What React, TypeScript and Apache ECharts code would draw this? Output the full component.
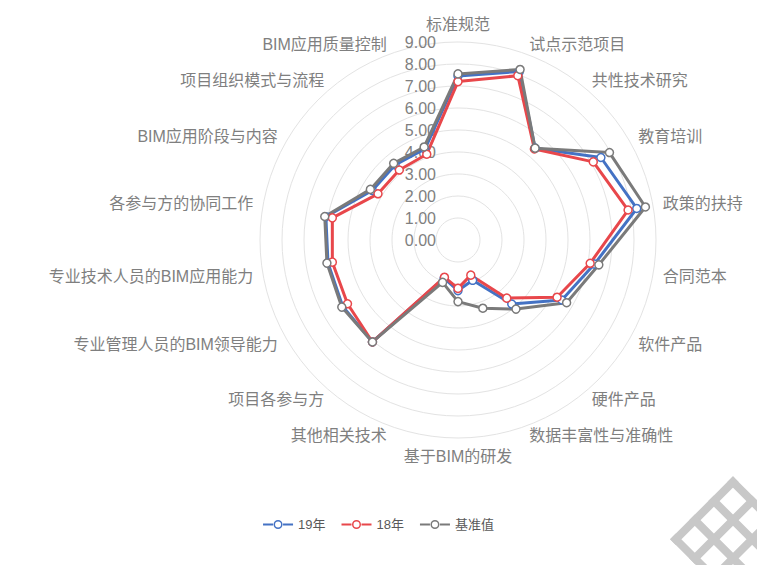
import React, { useEffect, useRef } from "react";
import * as echarts from "echarts";

// Indicators, clockwise from the top
const indicators = [
  "标准规范",
  "试点示范项目",
  "共性技术研究",
  "教育培训",
  "政策的扶持",
  "合同范本",
  "软件产品",
  "硬件产品",
  "数据丰富性与准确性",
  "基于BIM的研发",
  "其他相关技术",
  "项目各参与方",
  "专业管理人员的BIM领导能力",
  "专业技术人员的BIM应用能力",
  "各参与方的协同工作",
  "BIM应用阶段与内容",
  "项目组织模式与流程",
  "BIM应用质量控制",
];

const values19 = [7.45, 8.15, 5.45, 7.5, 8.25, 6.3, 5.45, 3.8, 1.95, 2.3, 1.85, 6.05, 6.05, 6.0, 6.1, 4.5, 4.45, 4.4];
const values18 = [7.2, 7.95, 5.4, 7.1, 7.85, 6.1, 5.2, 3.45, 1.7, 2.2, 1.8, 6.05, 5.8, 5.8, 5.8, 4.2, 4.15, 4.15];
const valuesBase = [7.55, 8.25, 5.45, 7.95, 8.65, 6.5, 5.7, 4.1, 3.3, 2.8, 2.05, 6.05, 6.1, 6.05, 6.15, 4.6, 4.55, 4.5];

const seriesNames = ["19年", "18年", "基准值"];
const seriesColors = ["#4472C4", "#E8474B", "#7A7A7A"];
const axisMin = 0;
const axisMax = 9;
const axisSplits = 9;

// ECharts radar runs counter-clockwise; reorder so the picture runs clockwise
function toCCW<T>(arr: T[]): T[] {
  return [arr[0], ...arr.slice(1).reverse()];
}

const legendIcon =
  "path://M0,7h10v2H0z M20,7h10v2H20z M10.5,8a4.5,4.5 0 1,0 9,0a4.5,4.5 0 1,0 -9,0z M12,8a3,3 0 1,1 6,0a3,3 0 1,1 -6,0z";

function watermark() {
  const T = [733, 482];
  const c = 27;
  const s = c / Math.SQRT2;
  const u = [-s, s];
  const v = [s, s];
  const els: any[] = [];
  for (let i = 0; i <= 3; i++) {
    const a = [T[0] + i * u[0], T[1] + i * u[1]];
    els.push({
      type: "line",
      shape: { x1: a[0], y1: a[1], x2: a[0] + 3 * v[0], y2: a[1] + 3 * v[1] },
      style: { stroke: "#c8c8c8", lineWidth: 8, lineCap: "square" },
    });
    const b = [T[0] + i * v[0], T[1] + i * v[1]];
    els.push({
      type: "line",
      shape: { x1: b[0], y1: b[1], x2: b[0] + 3 * u[0], y2: b[1] + 3 * u[1] },
      style: { stroke: "#c8c8c8", lineWidth: 8, lineCap: "square" },
    });
  }
  return { type: "group", z: 100, children: els };
}

export default function App() {
  const ref = useRef<HTMLDivElement>(null);
  useEffect(() => {
    if (!ref.current) return;
    const chart = echarts.init(ref.current, null, { renderer: "svg" });
    const fontFamily = "'Liberation Sans', 'Noto Sans CJK SC', sans-serif";
    const allValues = [values19, values18, valuesBase];
    chart.setOption({
      animation: false,
      backgroundColor: "#ffffff",
      textStyle: { fontFamily },
      radar: {
        center: [458, 240],
        radius: 198,
        startAngle: 90,
        shape: "circle",
        splitNumber: axisSplits,
        nameGap: 10,
        indicator: toCCW(indicators).map((name, i) => ({
          name,
          min: axisMin,
          max: axisMax,
          ...(i === 0 ? { axisLabel: { show: true } } : {}),
        })),
        axisName: { color: "#7f7f7f", fontSize: 16, fontFamily },
        axisLine: { show: false },
        axisTick: { show: false },
        axisLabel: {
          show: false,
          color: "#7f7f7f",
          fontSize: 16,
          margin: 22,
          fontFamily,
          formatter: (v: number) => Number(v).toFixed(2),
        },
        splitLine: { lineStyle: { color: "#e3e3e3", width: 1 } },
        splitArea: { show: false },
      },
      legend: {
        data: seriesNames.map((n, i) => ({
          name: n,
          icon: legendIcon,
          itemStyle: { color: seriesColors[i], borderWidth: 0 },
        })),
        left: "center",
        top: 513,
        itemWidth: 30,
        itemHeight: 9,
        itemGap: 16,
        textStyle: { color: "#595959", fontSize: 13, fontFamily },
      },
      series: [
        {
          type: "radar",
          symbol: "circle",
          symbolSize: 8,
          data: seriesNames.map((n, i) => ({
            name: n,
            value: toCCW(allValues[i]),
            lineStyle: { color: seriesColors[i], width: 3 },
            itemStyle: { color: "#ffffff", borderColor: seriesColors[i], borderWidth: 1.5 },
          })),
        },
      ],
      graphic: [watermark()],
    });
    return () => chart.dispose();
  }, []);
  return (
    <div
      ref={ref}
      style={{ position: "fixed", left: 0, top: 0, width: 757, height: 565, background: "#fff" }}
    />
  );
}
